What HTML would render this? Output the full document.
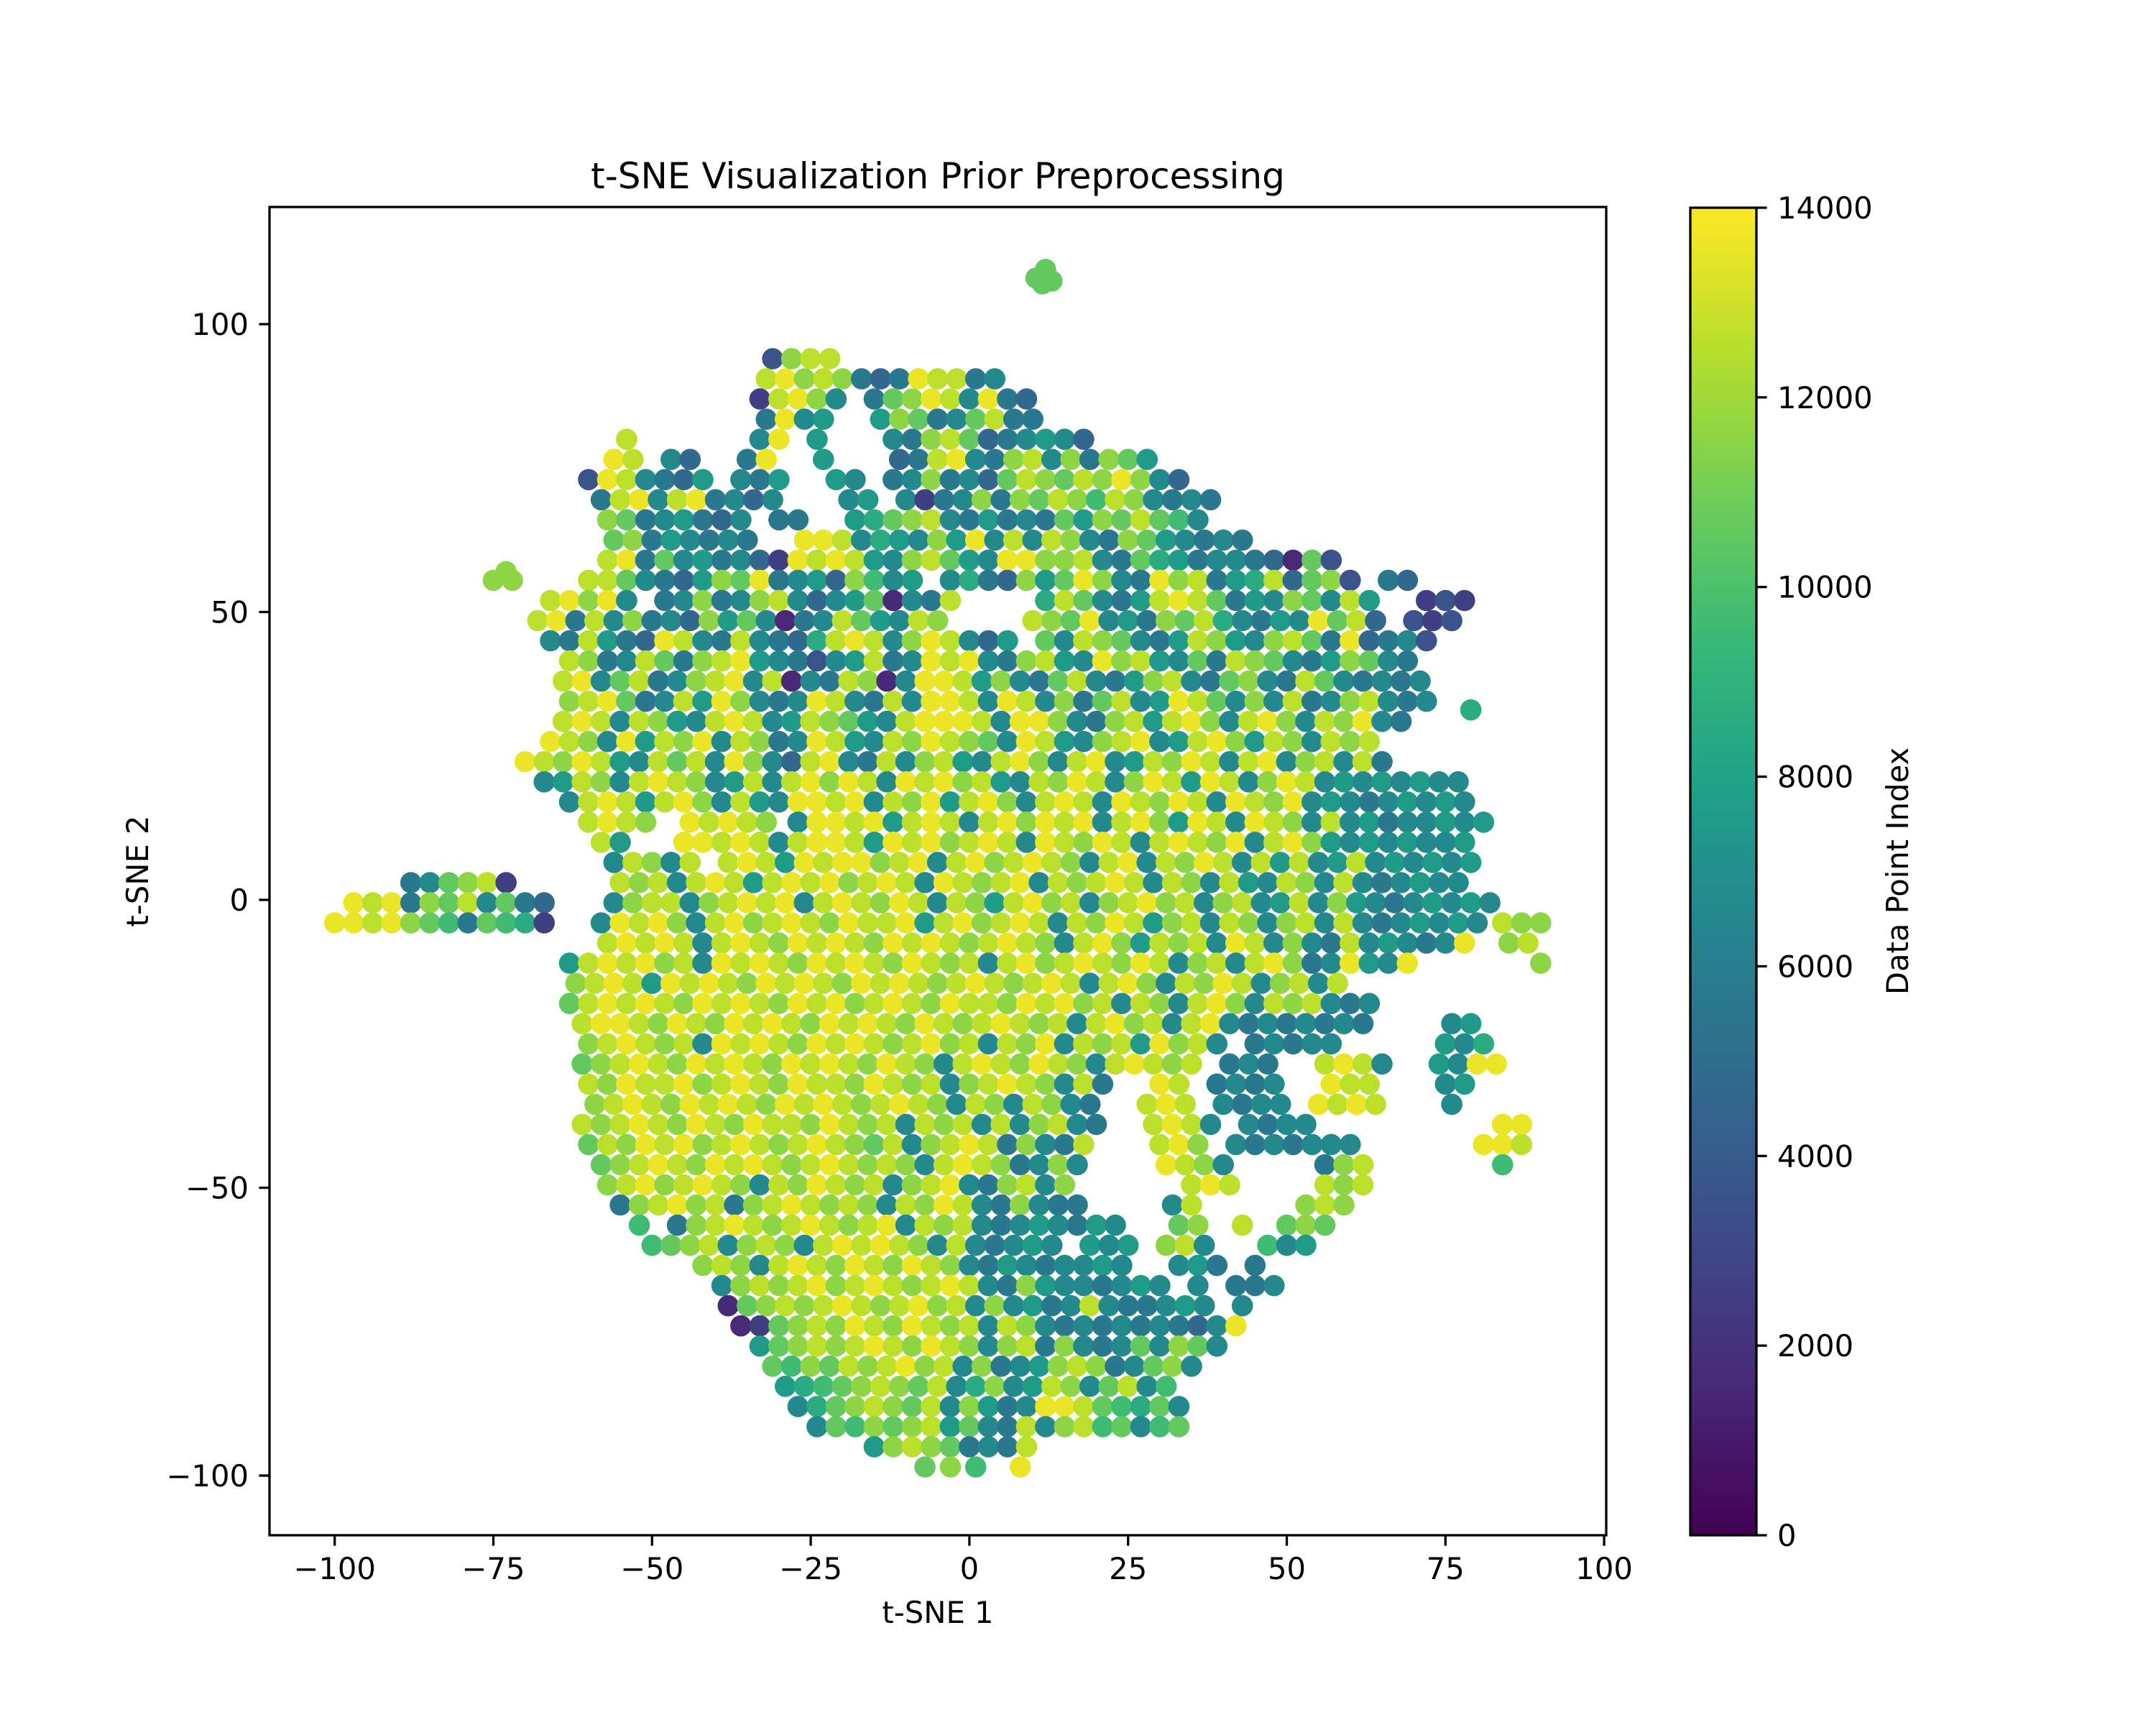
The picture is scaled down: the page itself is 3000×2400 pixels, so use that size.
<!DOCTYPE html>
<html><head><meta charset="utf-8"><title>t-SNE Visualization Prior Preprocessing</title>
<style>html,body{margin:0;padding:0;background:#fff}svg{display:block}text{font-family:"DejaVu Sans","Liberation Sans",sans-serif;fill:#000}</style>
</head><body>
<svg id="chart" width="3000" height="2400" viewBox="0 0 3000 2400" xmlns="http://www.w3.org/2000/svg">
<rect width="3000" height="2400" fill="#fff"/>
<defs><linearGradient id="vir" x1="0" y1="1" x2="0" y2="0">
<stop offset="0" stop-color="#440154"/><stop offset="0.1111" stop-color="#482878"/><stop offset="0.2222" stop-color="#3E4A89"/><stop offset="0.3333" stop-color="#31688E"/><stop offset="0.4444" stop-color="#26828E"/><stop offset="0.5556" stop-color="#1F9E89"/><stop offset="0.6667" stop-color="#35B779"/><stop offset="0.7778" stop-color="#6DCD59"/><stop offset="0.8889" stop-color="#B4DE2C"/><stop offset="1" stop-color="#FDE725"/></linearGradient>
<clipPath id="axclip"><rect x="375" y="288" width="1860" height="1848"/></clipPath></defs>
<text x="1305" y="262" font-size="50" text-anchor="middle">t-SNE Visualization Prior Preprocessing</text>
<g id="points" clip-path="url(#axclip)"></g>
<rect x="375" y="288" width="1860" height="1848" fill="none" stroke="#000" stroke-width="3.3"/>
<g id="xticks"></g>
<g id="yticks"></g>
<text x="1305" y="2258" font-size="41.7" text-anchor="middle">t-SNE 1</text>
<text x="206" y="1212" font-size="41.7" text-anchor="middle" transform="rotate(-90 206 1212)">t-SNE 2</text>
<rect x="2352" y="289" width="92" height="1847" fill="url(#vir)" stroke="#000" stroke-width="3.3"/>
<g id="cticks"></g>
<text x="2655" y="1212" font-size="41.7" text-anchor="middle" transform="rotate(-90 2655 1212)">Data Point Index</text>
</svg>
<script>
// tick label arrays
const xTickValues = [-100, -75, -50, -25, 0, 25, 50, 75, 100];
const yTickValues = [-100, -50, 0, 50, 100];
const colorTickValues = [0, 2000, 4000, 6000, 8000, 10000, 12000, 14000];
const colorMax = 14000;
// scatter data: rows of [y, x, v(thousands bin), x, v, ...]
const outlierPoints = [[10.5,108,10],[12,109.5,10],[13,107.5,10],[11.5,107,10],[79,33,8],[-73,57,11]];
const upperRows = [
[94,-31,3,-28,11,-25,12,-22,12],
[90.5,-32,12,-29,13,-26,11,-23,12,-20,11,-17,5,-14,4,-11,5,-8,13,-5,12,-2,12,1,5,4,6],
[87,-33,2,-30,12,-27,13,-24,11,-21,6,-15,5,-12,10,-9,11,-6,13,-3,12,0,6,3,13,6,5,9,4],
[83.5,-32,5,-29,13,-26,6,-23,7,-14,7,-11,11,-8,10,-5,5,-2,6,1,10,4,12,7,5,10,5],
[80,-54,12,-33,6,-30,13,-24,7,-12,6,-9,5,-6,11,-3,12,0,10,3,4,6,5,9,6,12,7,15,6,18,4],
[76.5,-56,13,-53,12,-47,6,-44,4,-35,5,-32,13,-23,7,-11,4,-8,5,-5,12,-2,13,1,6,4,5,7,11,10,12,13,6,16,11,19,5,22,11,25,10,28,7],
[73,-60,3,-57,13,-54,12,-51,6,-48,5,-45,4,-42,7,-36,6,-33,5,-30,7,-21,7,-18,6,-12,5,-9,6,-6,11,-3,5,0,6,3,4,6,10,9,12,12,11,15,10,18,12,21,11,24,13,27,11,30,6,33,4],
[69.5,-58,5,-55,12,-52,13,-49,6,-46,12,-43,13,-40,5,-37,6,-34,4,-31,6,-19,6,-16,7,-10,6,-7,2,-4,5,-1,6,2,11,5,5,8,11,11,10,14,12,17,11,20,9,23,12,26,11,29,6,32,5,35,6,38,5],
[66,-57,11,-54,10,-51,5,-48,6,-45,7,-42,5,-39,4,-36,6,-30,5,-27,5,-18,7,-15,8,-12,10,-9,11,-6,12,-3,6,0,5,3,7,6,5,9,6,12,5,15,10,18,7,21,11,24,10,27,12,30,10,33,9,36,6],
[62.5,-56,10,-53,11,-50,5,-47,7,-44,6,-41,5,-38,6,-35,5,-26,13,-23,13,-20,12,-17,6,-14,8,-11,7,-8,6,-5,11,-2,7,1,13,4,6,7,12,10,6,13,12,16,11,19,6,22,5,25,11,28,10,31,7,34,6,37,5,40,6,43,5],
[59,-57,12,-54,13,-51,5,-48,10,-45,6,-42,7,-39,5,-36,6,-33,4,-30,2,-27,13,-24,12,-21,13,-18,12,-15,7,-12,6,-9,11,-6,12,-3,10,0,7,3,6,6,13,9,13,12,11,15,11,18,12,21,6,24,5,27,10,30,8,33,7,36,5,39,6,42,6,45,5,48,4,51,1,54,10,57,3],
[55.5,-75,11,-72,11,-60,12,-57,12,-54,10,-51,6,-48,5,-45,4,-42,7,-39,11,-36,10,-33,13,-30,5,-27,6,-24,7,-21,4,-18,11,-15,9,-12,6,-9,7,-3,6,0,8,3,5,6,4,9,11,12,7,15,10,18,13,21,11,24,6,27,5,30,13,33,11,36,12,39,5,42,7,45,8,48,12,51,4,54,10,57,11,60,3,66,5,69,4],
[52,-66,12,-63,13,-60,11,-57,13,-54,6,-48,5,-45,6,-42,11,-39,5,-36,6,-33,11,-30,12,-27,6,-24,4,-21,6,-18,7,-15,10,-12,1,-9,6,-6,5,-3,12,12,8,15,12,18,10,21,6,24,5,27,7,30,12,33,13,36,12,39,10,42,5,45,7,48,6,51,11,54,10,57,6,60,12,63,7,72,2,75,3,78,2],
[48.5,-68,12,-65,13,-62,5,-59,12,-56,6,-53,11,-50,5,-47,6,-44,4,-41,11,-38,7,-35,10,-32,6,-29,1,-26,5,-23,6,-20,12,-17,10,-14,7,-11,6,-8,12,-5,11,10,12,13,11,16,10,19,13,22,6,25,7,28,5,31,11,34,10,37,12,40,8,43,6,46,5,49,7,52,6,55,13,58,10,61,12,64,4,70,3,73,2,76,3],
[45,-66,6,-63,5,-60,12,-57,7,-54,5,-51,4,-48,13,-45,12,-42,6,-39,5,-36,12,-33,6,-30,5,-27,4,-24,8,-21,12,-18,13,-15,12,-12,6,-9,11,-6,13,-3,12,0,6,3,4,6,7,12,10,15,6,18,12,21,11,24,10,27,6,30,5,33,7,36,12,39,11,42,7,45,6,48,11,51,12,54,10,57,5,60,13,63,4,66,5,69,6,72,3]
];
const middleRows = [
[41.5,-63,12,-60,11,-57,5,-54,6,-51,12,-48,10,-45,5,-42,11,-39,12,-36,13,-33,7,-30,6,-27,5,-24,3,-21,6,-18,7,-15,12,-12,5,-9,6,-6,13,-3,12,0,13,3,6,6,5,9,11,12,12,15,7,18,6,21,13,24,11,27,12,30,7,33,6,36,10,39,5,42,12,45,11,48,10,51,6,54,5,57,7,60,11,63,10,66,6,69,5],
[38,-64,12,-61,13,-58,6,-55,10,-52,12,-49,5,-46,6,-43,11,-40,12,-37,13,-34,6,-31,12,-28,1,-25,6,-22,5,-19,12,-16,11,-13,1,-10,6,-7,13,-4,13,-1,12,2,7,5,11,8,6,11,5,14,10,17,12,20,6,23,5,26,7,29,11,32,12,35,6,38,5,41,10,44,11,47,6,50,5,53,12,56,10,59,6,62,5,65,6,68,5,71,6],
[34.5,-63,11,-60,12,-57,13,-54,10,-51,5,-48,6,-45,12,-42,7,-39,13,-36,11,-33,6,-30,5,-27,6,-24,13,-21,12,-18,6,-15,5,-12,12,-9,6,-6,13,-3,13,0,12,3,6,6,13,9,12,12,6,15,11,18,5,21,10,24,12,27,6,30,7,33,13,36,12,39,10,42,6,45,11,48,6,51,12,54,5,57,6,60,11,63,12,66,6,69,5,72,6],
[31,-64,12,-61,13,-58,12,-55,6,-52,12,-49,11,-46,7,-43,6,-40,12,-37,13,-34,12,-31,6,-28,7,-25,12,-22,11,-19,10,-16,7,-13,6,-10,12,-7,13,-4,13,-1,13,2,12,5,6,8,13,11,13,14,11,17,6,20,5,23,11,26,12,29,7,32,12,35,13,38,11,41,6,44,12,47,13,50,11,53,6,56,12,59,11,62,13,65,6,68,5],
[27.5,-66,13,-63,12,-60,11,-57,6,-54,13,-51,7,-48,12,-45,11,-42,13,-39,6,-36,12,-33,11,-30,5,-27,6,-24,13,-21,12,-18,7,-15,6,-12,12,-9,11,-6,13,-3,12,0,11,3,10,6,6,9,13,12,12,15,7,18,6,21,11,24,12,27,13,30,6,33,7,36,12,39,13,42,11,45,7,48,12,51,11,54,6,57,12,60,11,63,12],
[24,-70,13,-67,12,-64,11,-61,13,-58,12,-55,7,-52,6,-49,12,-46,10,-43,12,-40,6,-37,13,-34,11,-31,6,-28,4,-25,12,-22,13,-19,6,-16,5,-13,12,-10,6,-7,11,-4,12,-1,7,2,6,5,12,8,13,11,11,14,6,17,12,20,13,23,6,26,7,29,12,32,11,35,13,38,12,41,6,44,12,47,13,50,6,53,11,56,12,59,6,62,12,65,5],
[20.5,-67,6,-64,7,-61,12,-58,11,-55,6,-52,12,-49,13,-46,12,-43,11,-40,6,-37,7,-34,12,-31,6,-28,12,-25,13,-22,11,-19,13,-16,12,-13,6,-10,13,-7,12,-4,13,-1,11,2,12,5,7,8,6,11,12,14,11,17,13,20,12,23,6,26,11,29,13,32,12,35,7,38,13,41,12,44,6,47,11,50,13,53,12,56,6,59,7,62,6,65,7,68,6,71,7,74,6,77,6],
[17,-63,6,-60,12,-57,13,-54,12,-51,7,-48,12,-45,13,-42,11,-39,6,-36,12,-33,7,-30,6,-27,13,-24,13,-21,12,-18,13,-15,6,-12,12,-9,11,-6,13,-3,7,0,12,3,13,6,11,9,6,12,12,15,13,18,12,21,6,24,13,27,12,30,11,33,13,36,12,39,6,42,13,45,12,48,11,51,13,54,6,57,7,60,6,63,5,66,6,69,7,72,6,75,7,78,6],
[13.5,-60,12,-57,13,-54,12,-51,11,-44,13,-41,12,-38,13,-35,12,-32,11,-27,6,-24,13,-21,13,-18,12,-15,13,-12,7,-9,12,-6,13,-3,12,0,6,3,12,6,13,9,11,12,13,15,12,18,13,21,6,24,12,27,13,30,11,33,7,36,13,39,12,42,6,45,13,48,12,51,11,54,6,57,12,60,6,63,7,66,5,69,6,72,6,75,7,78,6,81,7],
[10,-58,12,-55,7,-45,13,-42,13,-39,12,-36,13,-33,12,-30,6,-27,12,-24,13,-21,13,-18,12,-15,7,-12,13,-9,12,-6,13,-3,11,0,12,3,13,6,12,9,6,12,13,15,12,18,11,21,13,24,12,27,6,30,12,33,13,36,12,39,11,42,13,45,6,48,12,51,13,54,11,57,7,60,6,63,7,66,6,69,7,72,6,75,6,78,7],
[6.5,-56,6,-53,12,-50,11,-47,6,-44,12,-38,12,-35,13,-32,12,-29,7,-26,13,-23,12,-20,13,-17,13,-14,11,-11,12,-8,13,-5,6,-2,12,1,13,4,11,7,12,10,13,13,12,16,11,19,6,22,12,25,13,28,6,31,12,34,11,37,13,40,12,43,6,46,12,49,7,52,12,55,6,58,7,61,12,64,6,67,7,70,6,73,7,76,6,79,7],
[3,-88,5,-85,6,-82,10,-79,11,-76,12,-73,2,-55,12,-52,11,-49,12,-46,6,-43,12,-40,13,-37,12,-34,7,-31,12,-28,13,-25,12,-22,13,-19,11,-16,12,-13,13,-10,12,-7,6,-4,13,-1,12,2,11,5,12,8,13,11,6,14,12,17,11,20,12,23,13,26,12,29,6,32,12,35,11,38,6,41,12,44,7,47,6,50,12,53,11,56,6,59,12,62,6,65,5,68,6,71,7,74,6,77,6],
[-0.5,-97,13,-94,12,-91,13,-88,5,-85,11,-82,10,-79,12,-76,6,-73,10,-70,5,-67,4,-56,6,-53,11,-50,12,-47,12,-44,6,-41,11,-38,12,-35,13,-32,12,-29,13,-26,6,-23,12,-20,13,-17,12,-14,11,-11,13,-8,12,-5,6,-2,12,1,11,4,7,7,12,10,13,13,11,16,12,19,6,22,11,25,12,28,13,31,11,34,12,37,6,40,11,43,12,46,6,49,7,52,12,55,6,58,11,61,7,64,6,67,5,70,6,73,7,76,6,79,7,82,6],
[-4,-100,13,-97,13,-94,12,-91,13,-88,11,-85,10,-82,9,-79,5,-76,10,-73,9,-70,8,-67,2,-58,6,-55,13,-52,12,-49,13,-46,11,-43,6,-40,12,-37,13,-34,11,-31,12,-28,13,-25,12,-22,11,-19,13,-16,12,-13,12,-10,13,-7,7,-4,12,-1,13,2,11,5,12,8,13,11,12,14,6,17,12,20,11,23,13,26,12,29,7,32,11,35,12,38,6,41,12,44,11,47,6,50,11,53,12,56,6,59,12,62,6,65,5,68,6,71,7,74,6,77,7,80,6,84,12,87,11,90,11],
[-7.5,-57,12,-54,13,-51,12,-48,13,-45,12,-42,6,-39,12,-36,13,-33,12,-30,11,-27,13,-24,12,-21,13,-18,12,-15,11,-12,13,-9,12,-6,13,-3,12,0,11,3,12,6,13,9,12,12,11,15,6,18,12,21,13,24,11,27,7,30,12,33,11,36,12,39,6,42,13,45,12,48,6,51,11,54,6,57,5,60,12,63,6,66,7,69,6,72,5,75,6,78,13,85,11,88,12],
[-11,-63,7,-60,12,-57,13,-54,12,-51,13,-48,11,-45,12,-42,6,-39,13,-36,12,-33,13,-30,12,-27,11,-24,13,-21,12,-18,13,-15,12,-12,11,-9,13,-6,12,-3,11,0,12,3,6,6,12,9,13,12,11,15,12,18,13,21,12,24,11,27,13,30,12,33,6,36,11,39,12,42,6,45,12,48,13,51,11,54,5,57,6,60,13,63,7,66,6,69,13,90,11],
[-14.5,-62,11,-59,12,-56,13,-53,12,-50,7,-47,13,-44,12,-41,13,-38,12,-35,11,-32,13,-29,12,-26,13,-23,12,-20,11,-17,13,-14,12,-11,13,-8,12,-5,11,-2,12,1,13,4,12,7,11,10,12,13,13,16,12,19,6,22,12,25,13,28,11,31,6,34,12,37,11,40,13,43,12,46,6,49,11,52,12,55,6,58,12],
[-18,-63,10,-60,12,-57,13,-54,12,-51,13,-48,12,-45,11,-42,13,-39,12,-36,13,-33,12,-30,11,-27,13,-24,12,-21,13,-18,11,-15,12,-12,13,-9,12,-6,11,-3,13,0,12,3,12,6,11,9,13,12,12,15,13,18,11,21,12,24,6,27,12,30,11,33,6,36,12,39,13,42,11,45,6,48,12,51,11,54,12,57,6,60,5,63,6],
[-21.5,-61,12,-58,13,-55,13,-52,12,-49,11,-46,13,-43,12,-40,11,-37,13,-34,12,-31,13,-28,12,-25,11,-22,13,-19,12,-16,13,-13,12,-10,11,-7,13,-4,12,-1,11,2,12,5,13,8,12,11,11,14,12,17,6,20,12,23,13,26,11,29,12,32,6,35,12,38,13,41,6,44,5,47,6,50,5,53,6,56,5,59,6,62,5,76,6,79,7],
[-25,-60,11,-57,12,-54,13,-51,12,-48,11,-45,12,-42,6,-39,13,-36,12,-33,13,-30,12,-27,11,-24,13,-21,12,-18,13,-15,12,-12,11,-9,12,-6,13,-3,11,0,12,3,6,6,12,9,11,12,13,15,6,18,12,21,11,24,12,27,7,30,13,33,11,36,12,39,6,45,5,48,6,51,5,54,6,57,6,75,7,78,6,81,8],
[-28.5,-61,10,-58,11,-55,12,-52,13,-49,12,-46,11,-43,13,-40,12,-37,13,-34,12,-31,11,-28,13,-25,12,-22,13,-19,12,-16,11,-13,13,-10,12,-7,11,-4,6,-1,12,2,13,5,12,8,11,11,13,14,12,17,11,20,6,23,12,26,13,29,12,32,11,35,12,41,5,44,6,47,5,56,12,59,13,62,12,65,6,74,7,77,6,80,13,83,13]
];
const lowerRows = [
[-32,-60,12,-57,11,-54,13,-51,12,-48,12,-45,13,-42,11,-39,12,-36,13,-33,12,-30,11,-27,13,-24,12,-21,12,-18,11,-15,13,-12,12,-9,11,-6,12,-3,6,0,11,3,12,6,13,9,12,12,11,15,6,18,12,21,5,30,13,33,12,39,5,42,6,45,5,48,6,57,13,60,12,63,12,75,6,78,7],
[-35.5,-59,11,-56,12,-53,13,-50,12,-47,11,-44,13,-41,12,-38,13,-35,12,-32,11,-29,13,-26,12,-23,13,-20,12,-17,11,-14,12,-11,13,-8,12,-5,11,-2,6,1,12,4,11,7,6,10,12,13,11,16,6,19,5,28,12,31,13,34,12,40,6,43,5,46,6,49,6,55,13,58,12,61,13,64,12,76,6],
[-39,-61,12,-58,11,-55,12,-52,13,-49,12,-46,11,-43,13,-40,12,-37,11,-34,13,-31,12,-28,12,-25,11,-22,13,-19,12,-16,11,-13,12,-10,6,-7,12,-4,11,-1,12,2,6,5,12,8,6,11,11,14,12,17,6,20,5,29,12,32,13,35,12,38,6,44,6,47,5,50,6,53,6,84,13,87,13],
[-42.5,-60,10,-57,12,-54,11,-51,13,-48,12,-45,13,-42,11,-39,12,-36,13,-33,12,-30,11,-27,12,-24,13,-21,12,-18,11,-15,10,-12,12,-9,6,-6,11,-3,12,0,13,3,12,6,5,9,11,12,6,15,5,18,12,30,12,33,13,36,11,42,6,45,5,48,6,51,5,54,6,57,6,60,6,81,13,84,13,87,12],
[-46,-58,10,-55,11,-52,12,-49,13,-46,12,-43,11,-40,13,-37,12,-34,13,-31,12,-28,11,-25,12,-22,13,-19,12,-16,11,-13,12,-10,11,-7,6,-4,12,-1,13,2,12,5,11,8,5,11,6,14,11,17,6,31,13,34,12,37,11,40,6,56,5,59,11,62,12,84,9],
[-49.5,-57,11,-54,12,-51,13,-48,11,-45,12,-42,13,-39,12,-36,11,-33,6,-30,12,-27,11,-24,13,-21,12,-18,11,-15,12,-12,6,-9,11,-6,12,-3,13,0,6,3,5,6,11,9,12,12,6,15,11,35,12,38,13,41,12,56,12,59,11,62,12],
[-53,-55,5,-52,11,-49,12,-46,13,-43,11,-40,12,-37,5,-34,11,-31,12,-28,13,-25,12,-22,11,-19,12,-16,11,-13,6,-10,12,-7,11,-4,13,-1,12,2,6,5,5,8,11,11,6,14,5,17,5,32,6,35,12,53,11,56,12,59,11],
[-56.5,-52,9,-46,5,-43,11,-40,12,-37,13,-34,12,-31,11,-28,12,-25,13,-22,12,-19,11,-16,12,-13,13,-10,6,-7,12,-4,11,-1,12,2,6,5,5,8,6,11,7,14,6,17,5,20,7,23,6,33,10,36,11,43,12,50,10,53,11,56,10],
[-60,-50,9,-47,10,-44,11,-41,12,-38,6,-35,11,-32,12,-29,11,-26,6,-23,12,-20,13,-17,12,-14,13,-11,12,-8,11,-5,6,-2,12,1,6,4,5,7,6,10,7,13,6,19,7,22,6,25,7,31,11,34,12,37,6,47,9,50,6,53,7],
[-63.5,-42,11,-39,12,-36,11,-33,6,-30,12,-27,13,-24,12,-21,11,-18,13,-15,12,-12,11,-9,13,-6,12,-3,11,0,6,3,5,6,7,9,6,12,5,15,6,18,6,21,7,24,6,33,6,36,7,39,5,45,5],
[-67,-39,6,-36,11,-33,12,-30,11,-27,12,-24,13,-21,11,-18,12,-15,13,-12,12,-9,11,-6,12,-3,13,0,12,3,6,6,5,9,11,12,7,15,6,18,6,21,5,24,6,27,7,30,6,36,6,42,5,45,5,48,6],
[-70.5,-38,1,-35,10,-32,11,-29,12,-26,11,-23,12,-20,13,-17,12,-14,11,-11,12,-8,13,-5,11,-2,12,1,6,4,11,7,6,10,7,13,5,16,6,19,12,22,6,25,5,28,5,31,6,34,7,37,6,43,6],
[-74,-36,1,-33,2,-30,10,-27,11,-24,12,-21,11,-18,13,-15,12,-12,11,-9,13,-6,12,-3,11,0,12,3,6,6,12,9,11,12,6,15,5,18,6,21,5,24,6,27,5,30,6,33,5,36,4,39,6,42,13],
[-77.5,-33,7,-30,10,-27,11,-24,12,-21,11,-18,12,-15,13,-12,12,-9,11,-6,13,-3,12,0,11,3,6,6,11,9,12,12,5,15,11,18,6,21,5,24,6,27,10,30,6,33,11,36,10,39,6],
[-81,-31,10,-28,9,-25,11,-22,10,-19,12,-16,11,-13,12,-10,13,-7,11,-4,12,-1,6,2,11,5,5,8,6,11,7,14,11,17,12,20,11,23,5,26,6,29,10,32,11,35,6],
[-84.5,-29,7,-26,8,-23,9,-20,10,-17,11,-14,12,-11,11,-8,10,-5,12,-2,6,1,8,4,11,7,6,10,7,13,12,16,11,19,6,22,10,25,12,28,6,31,9],
[-88,-27,6,-24,8,-21,10,-18,11,-15,12,-12,11,-9,10,-6,12,-3,6,0,11,3,7,6,5,9,6,12,13,15,13,18,12,21,10,24,9,27,8,30,10,33,6],
[-91.5,-24,6,-21,10,-18,9,-15,11,-12,10,-9,11,-6,12,-3,7,0,10,3,6,6,5,9,12,12,6,15,11,18,12,21,9,24,10,27,6,30,9,33,10],
[-95,-15,7,-12,11,-9,12,-6,11,-3,10,0,5,3,6,6,5,9,12],
[-98.5,-7,10,-3,11,1,9,8,13]
];

const NS = 'http://www.w3.org/2000/svg';
function xScale(v){ return 465.7 + (v + 100) * 8.832; }
function yScale(v){ return 1252 - v * 8.01; }
function cScale(v){ return 2136 - v / colorMax * 1847; }
const vir = [[68,1,84],[72,40,120],[62,74,137],[49,104,142],[38,130,142],[31,158,137],[53,183,121],[109,205,89],[180,222,44],[253,231,37]];
function viridis(t){
  t = Math.max(0, Math.min(1, t));
  const p = t * 9, i = Math.min(8, Math.floor(p)), f = p - i;
  const a = vir[i], b = vir[i + 1];
  return 'rgb(' + [0,1,2].map(k => Math.round(a[k] + (b[k] - a[k]) * f)).join(',') + ')';
}
const pg = document.getElementById('points');
function addPoint(x, y, v){
  const c = document.createElementNS(NS, 'circle');
  c.setAttribute('cx', xScale(x).toFixed(1));
  c.setAttribute('cy', yScale(y).toFixed(1));
  c.setAttribute('r', '14.8');
  c.setAttribute('fill', viridis((v + 0.6) * 1000 / colorMax));
  
  
  pg.appendChild(c);
}
[upperRows, middleRows, lowerRows].forEach(rows => rows.forEach(r => {
  for (let i = 1; i + 1 < r.length; i += 2) addPoint(r[i], r[0], r[i + 1]);
}));
outlierPoints.forEach(p => addPoint(p[0], p[1], p[2]));

function fmt(v){ return v < 0 ? '\u2212' + Math.abs(v) : String(v); }
const xg = document.getElementById('xticks');
xTickValues.forEach(v => {
  const x = xScale(v);
  const l = document.createElementNS(NS, 'line');
  l.setAttribute('x1', x); l.setAttribute('x2', x); l.setAttribute('y1', 2136); l.setAttribute('y2', 2150.6);
  l.setAttribute('stroke', '#000'); l.setAttribute('stroke-width', '3.3');
  
  
  xg.appendChild(l);
  const t = document.createElementNS(NS, 'text');
  t.setAttribute('x', x); t.setAttribute('y', 2197); t.setAttribute('font-size', '41.7'); t.setAttribute('text-anchor', 'middle');
  t.textContent = fmt(v);
  
  
  xg.appendChild(t);
});
const yg = document.getElementById('yticks');
yTickValues.forEach(v => {
  const y = yScale(v);
  const l = document.createElementNS(NS, 'line');
  l.setAttribute('x1', 360.4); l.setAttribute('x2', 375); l.setAttribute('y1', y); l.setAttribute('y2', y);
  l.setAttribute('stroke', '#000'); l.setAttribute('stroke-width', '3.3');
  
  
  yg.appendChild(l);
  const t = document.createElementNS(NS, 'text');
  t.setAttribute('x', 346); t.setAttribute('y', y + 15); t.setAttribute('font-size', '41.7'); t.setAttribute('text-anchor', 'end');
  t.textContent = fmt(v);
  
  
  yg.appendChild(t);
});
const cg = document.getElementById('cticks');
colorTickValues.forEach(v => {
  const y = cScale(v);
  const l = document.createElementNS(NS, 'line');
  l.setAttribute('x1', 2444); l.setAttribute('x2', 2458.6); l.setAttribute('y1', y); l.setAttribute('y2', y);
  l.setAttribute('stroke', '#000'); l.setAttribute('stroke-width', '3.3');
  
  
  cg.appendChild(l);
  const t = document.createElementNS(NS, 'text');
  t.setAttribute('x', 2473); t.setAttribute('y', y + 15); t.setAttribute('font-size', '41.7'); t.setAttribute('text-anchor', 'start');
  t.textContent = String(v);
  
  
  cg.appendChild(t);
});
</script>
</body></html>
